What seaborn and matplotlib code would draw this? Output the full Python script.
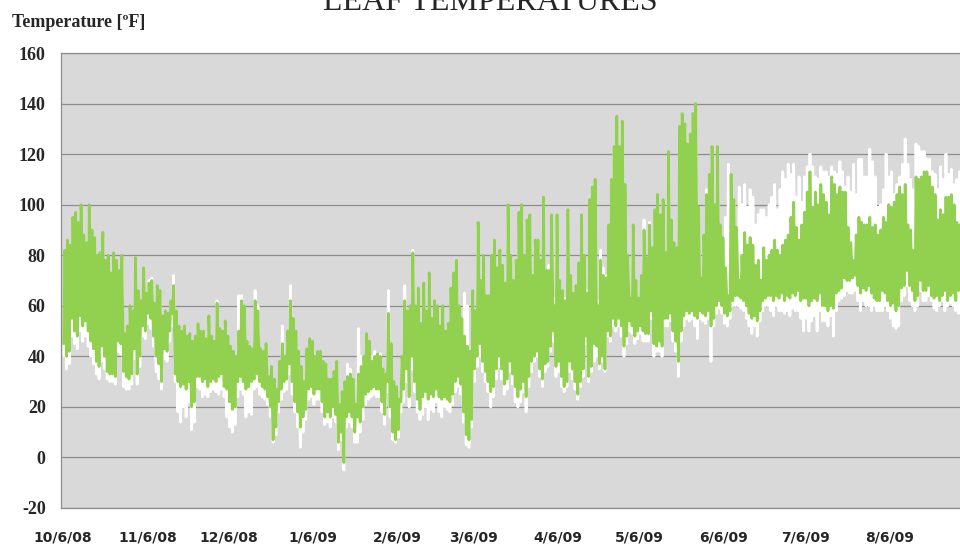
import pandas as pd
import numpy as np
import matplotlib
matplotlib.use('Agg')
import matplotlib.pyplot as plt
import seaborn as sns

# daily leaf temperature ranges, starting 10/6/08 (deg F)
start = '2008-10-06'

green_hi = [
    82, 86, 84, 95, 97, 93, 100, 88, 85, 100,
    90, 87, 80, 81, 89, 78, 80, 73, 81, 78,
    74, 80, 49, 52, 60, 58, 79, 66, 62, 75,
    65, 69, 70, 61, 68, 66, 56, 58, 57, 62,
    68, 58, 52, 50, 52, 48, 49, 46, 48, 53,
    50, 50, 47, 56, 48, 46, 61, 51, 50, 54,
    48, 44, 42, 40, 50, 62, 60, 46, 44, 43,
    62, 58, 43, 42, 45, 32, 36, 31, 27, 38,
    45, 40, 50, 62, 55, 50, 42, 36, 30, 43,
    47, 46, 40, 42, 42, 38, 37, 31, 31, 34,
    38, 21, 26, 30, 32, 33, 31, 21, 33, 36,
    40, 49, 46, 38, 40, 41, 40, 35, 33, 57,
    45, 30, 28, 23, 40, 62, 58, 60, 81, 60,
    67, 53, 69, 58, 73, 55, 62, 60, 52, 60,
    50, 53, 67, 73, 78, 60, 55, 48, 44, 42,
    66, 58, 93, 70, 80, 64, 64, 80, 86, 75,
    82, 76, 69, 100, 80, 70, 78, 97, 100, 80,
    94, 96, 72, 86, 86, 78, 103, 74, 74, 96,
    60, 96, 70, 66, 62, 98, 72, 65, 68, 77,
    96, 80, 65, 102, 107, 110, 60, 78, 72, 71,
    92, 110, 123, 135, 123, 133, 108, 80, 63, 92,
    70, 63, 72, 90, 79, 92, 83, 98, 104, 96,
    102, 81, 121, 94, 85, 83, 131, 136, 132, 124,
    128, 136, 140, 99, 71, 88, 104, 112, 123, 100,
    123, 92, 87, 75, 64, 112, 102, 91, 70, 80,
    89, 84, 87, 84, 76, 78, 70, 83, 78, 80,
    82, 86, 82, 80, 84, 86, 88, 95, 101, 91,
    86, 92, 97, 105, 113, 99, 105, 100, 108, 104,
    101, 96, 111, 108, 104, 107, 105, 105, 91, 85,
    78, 88, 95, 93, 92, 92, 95, 91, 92, 88,
    90, 95, 93, 100, 99, 101, 104, 107, 104, 108,
    92, 90, 82, 111, 110, 111, 113, 113, 111, 107,
    104, 94, 98, 96, 103, 103, 104, 100, 93, 92,
]

green_lo = [
    45, 40, 42, 55, 50, 48, 56, 52, 54, 50,
    46, 43, 38, 36, 44, 40, 34, 33, 33, 32,
    46, 45, 34, 32, 31, 33, 43, 33, 40, 52,
    50, 57, 55, 48, 40, 37, 30, 43, 42, 50,
    57, 33, 30, 28, 29, 27, 30, 20, 22, 32,
    32, 30, 31, 28, 30, 31, 30, 32, 33, 28,
    27, 22, 19, 20, 30, 32, 30, 27, 28, 30,
    31, 33, 30, 28, 27, 24, 20, 7, 12, 22,
    27, 30, 31, 37, 30, 22, 18, 12, 16, 19,
    27, 28, 25, 27, 27, 22, 16, 18, 16, 20,
    17, 6, 10, -2, 16, 18, 16, 10, 16, 14,
    20, 25, 26, 27, 28, 27, 27, 22, 17, 30,
    20, 10, 7, 11, 22, 27, 35, 24, 40, 30,
    23, 19, 24, 26, 23, 25, 24, 27, 24, 23,
    24, 23, 22, 25, 30, 32, 29, 18, 9, 7,
    15, 35, 40, 45, 38, 34, 30, 26, 28, 35,
    40, 35, 29, 31, 38, 33, 28, 24, 27, 30,
    24, 32, 38, 40, 42, 35, 31, 37, 38, 44,
    50, 36, 38, 32, 28, 30, 38, 35, 30, 25,
    30, 35, 48, 32, 36, 45, 44, 37, 40, 35,
    50, 48, 55, 52, 55, 52, 44, 48, 54, 52,
    48, 50, 52, 50, 49, 49, 58, 45, 44, 46,
    44, 55, 55, 57, 50, 46, 38, 50, 56, 58,
    57, 58, 56, 55, 58, 57, 56, 58, 52, 55,
    60, 62, 60, 57, 56, 58, 62, 64, 64, 63,
    62, 60, 57, 55, 56, 54, 58, 62, 63, 64,
    64, 62, 64, 63, 65, 62, 64, 63, 65, 64,
    66, 62, 63, 63, 60, 62, 63, 62, 65, 60,
    60, 58, 60, 59, 65, 66, 67, 71, 70, 70,
    71, 72, 68, 65, 67, 66, 68, 65, 63, 62,
    62, 66, 65, 62, 60, 61, 58, 60, 67, 68,
    74, 68, 66, 62, 64, 70, 66, 66, 68, 64,
    63, 64, 62, 64, 66, 62, 64, 65, 62, 66,
]

white_hi = [
    80, 84, 82, 93, 95, 90, 98, 86, 83, 98,
    88, 85, 78, 79, 87, 76, 78, 71, 79, 76,
    72, 78, 48, 50, 58, 56, 77, 64, 60, 73,
    64, 70, 71, 60, 67, 65, 55, 57, 56, 62,
    72, 57, 51, 49, 51, 47, 48, 45, 47, 53,
    50, 49, 46, 55, 47, 45, 62, 50, 49, 53,
    47, 43, 41, 39, 64, 64, 59, 45, 43, 42,
    66, 60, 42, 41, 44, 31, 35, 30, 26, 37,
    52, 39, 49, 68, 54, 49, 41, 35, 29, 42,
    46, 45, 39, 42, 41, 37, 36, 30, 30, 33,
    37, 20, 25, 29, 37, 35, 30, 20, 51, 40,
    39, 48, 45, 40, 42, 41, 41, 34, 32, 66,
    44, 29, 27, 22, 39, 68, 57, 59, 82, 59,
    66, 52, 68, 57, 72, 54, 61, 59, 51, 59,
    49, 52, 66, 72, 77, 59, 54, 65, 60, 41,
    65, 57, 92, 69, 79, 63, 63, 79, 85, 74,
    81, 75, 68, 99, 79, 69, 77, 96, 99, 79,
    93, 95, 71, 85, 85, 77, 102, 72, 76, 95,
    63, 95, 69, 65, 63, 97, 71, 64, 67, 76,
    95, 79, 66, 101, 106, 109, 62, 82, 75, 72,
    91, 109, 122, 134, 122, 132, 107, 79, 62, 91,
    69, 62, 71, 94, 78, 93, 82, 97, 103, 95,
    101, 80, 120, 93, 84, 82, 130, 135, 131, 123,
    127, 135, 139, 98, 70, 87, 106, 111, 122, 99,
    122, 91, 86, 95, 116, 111, 101, 90, 107, 100,
    108, 99, 106, 103, 92, 96, 98, 98, 95, 100,
    103, 108, 98, 106, 113, 110, 116, 112, 116, 103,
    111, 101, 111, 115, 120, 115, 111, 110, 115, 113,
    113, 111, 115, 113, 112, 117, 113, 107, 111, 105,
    116, 104, 118, 118, 111, 111, 122, 117, 111, 99,
    100, 106, 120, 111, 113, 104, 108, 111, 116, 126,
    116, 110, 106, 124, 123, 121, 121, 118, 118, 113,
    112, 106, 115, 110, 120, 112, 114, 108, 110, 113,
]

white_lo = [
    40, 35, 37, 48, 45, 43, 50, 46, 48, 44,
    40, 37, 33, 31, 38, 35, 31, 30, 30, 29,
    42, 41, 28, 27, 27, 29, 39, 29, 36, 48,
    47, 53, 51, 44, 34, 31, 27, 39, 38, 46,
    52, 30, 18, 14, 20, 16, 22, 11, 14, 28,
    27, 24, 25, 24, 26, 27, 26, 25, 27, 24,
    16, 12, 10, 13, 24, 27, 25, 16, 18, 17,
    27, 28, 25, 24, 23, 21, 16, 6, 9, 18,
    23, 26, 27, 33, 25, 18, 12, 4, 10, 15,
    23, 24, 21, 23, 23, 18, 13, 14, 12, 16,
    14, 3, 7, -5, 12, 14, 12, 6, 6, 10,
    15, 21, 23, 24, 25, 24, 24, 18, 13, 26,
    16, 7, 6, 8, 18, 22, 30, 20, 35, 26,
    18, 15, 17, 20, 15, 19, 18, 22, 18, 16,
    20, 19, 18, 21, 26, 28, 25, 14, 5, 4,
    12, 30, 36, 40, 34, 30, 26, 20, 24, 31,
    36, 31, 25, 27, 34, 29, 22, 20, 22, 26,
    18, 28, 34, 38, 40, 32, 28, 34, 36, 42,
    46, 32, 34, 28, 26, 28, 34, 31, 27, 23,
    28, 32, 45, 30, 34, 38, 40, 35, 38, 34,
    48, 46, 52, 50, 52, 48, 40, 45, 50, 49,
    45, 47, 49, 46, 46, 46, 55, 40, 42, 42,
    40, 52, 52, 54, 46, 42, 32, 46, 52, 55,
    54, 55, 52, 47, 55, 54, 53, 55, 38, 52,
    57, 59, 57, 53, 52, 55, 60, 60, 60, 59,
    58, 55, 52, 49, 52, 48, 54, 58, 60, 60,
    58, 56, 60, 58, 58, 57, 58, 56, 59, 58,
    58, 55, 50, 55, 50, 54, 56, 50, 58, 54,
    54, 52, 56, 48, 58, 62, 63, 64, 66, 65,
    65, 66, 62, 58, 62, 60, 60, 58, 60, 58,
    58, 58, 60, 58, 55, 52, 51, 52, 62, 64,
    68, 62, 60, 58, 60, 66, 62, 62, 64, 62,
    59, 58, 60, 62, 58, 60, 61, 60, 58, 57,
]

tick_dates = ['2008-10-06', '2008-11-06', '2008-12-06', '2009-01-06', '2009-02-06',
              '2009-03-06', '2009-04-06', '2009-05-06', '2009-06-06', '2009-07-06',
              '2009-08-06']
tick_labels = ['10/6/08', '11/6/08', '12/6/08', '1/6/09', '2/6/09', '3/6/09',
               '4/6/09', '5/6/09', '6/6/09', '7/6/09', '8/6/09']
y_ticks = [-20, 0, 20, 40, 60, 80, 100, 120, 140, 160]

days = pd.date_range(start, periods=len(green_hi), freq='D')


def daily_trace(lo, hi):
    # each day: morning low then afternoon high, like the hourly trace
    t, v = [], []
    for d, a, b in zip(days, lo, hi):
        t += [d + pd.Timedelta(hours=6), d + pd.Timedelta(hours=15)]
        v += [a, b]
    return pd.DataFrame({'time': t, 'temp': v})


white_df = daily_trace(white_lo, white_hi)
green_df = daily_trace(green_lo, green_hi)

sns.set_style('white', {'axes.facecolor': '#D9D9D9'})

fig = plt.figure(figsize=(9.6, 5.44), dpi=100)
ax = fig.add_axes([61 / 960, 1 - 508 / 544, 1 - 61 / 960, (508 - 53) / 544])

sns.lineplot(data=white_df, x='time', y='temp', color='white', lw=2.0,
             sort=False, estimator=None, ax=ax)
sns.lineplot(data=green_df, x='time', y='temp', color='#92D050', lw=2.0,
             sort=False, estimator=None, ax=ax)

ax.set_ylim(-20, 160)
ax.set_yticks(y_ticks)
ax.set_yticklabels([str(v) for v in y_ticks], fontfamily='Liberation Serif',
                   fontweight='bold', fontsize=13)
ax.set_xlim(pd.Timestamp('2008-10-05 06:00'), pd.Timestamp('2009-08-31 19:00'))
ax.set_xticks(pd.to_datetime(tick_dates))
ax.set_xticklabels(tick_labels, fontfamily='DejaVu Sans', fontweight='bold', fontsize=10)
ax.tick_params(axis='y', length=0, pad=11)
ax.tick_params(axis='x', length=0, pad=16)
ax.set_xlabel('')
ax.set_ylabel('')

ax.set_axisbelow(True)
ax.yaxis.grid(True, color='#8C8C8C', lw=0.9)
ax.xaxis.grid(False)
for side in ['left', 'bottom', 'top']:
    ax.spines[side].set_color('#8C8C8C')
    ax.spines[side].set_linewidth(0.9)
ax.spines['right'].set_visible(False)

# title sits partly above the canvas, as in the source image
fig.text(0.511, 1 - 10 / 544, 'LEAF TEMPERATURES', ha='center', va='baseline',
         fontfamily='Liberation Serif', fontsize=23)
fig.text(12 / 960, 1 - 27 / 544, 'Temperature [ºF]', ha='left', va='baseline',
         fontfamily='Liberation Serif', fontweight='bold', fontsize=13)

fig.savefig('out.png', dpi=100, facecolor='white')
